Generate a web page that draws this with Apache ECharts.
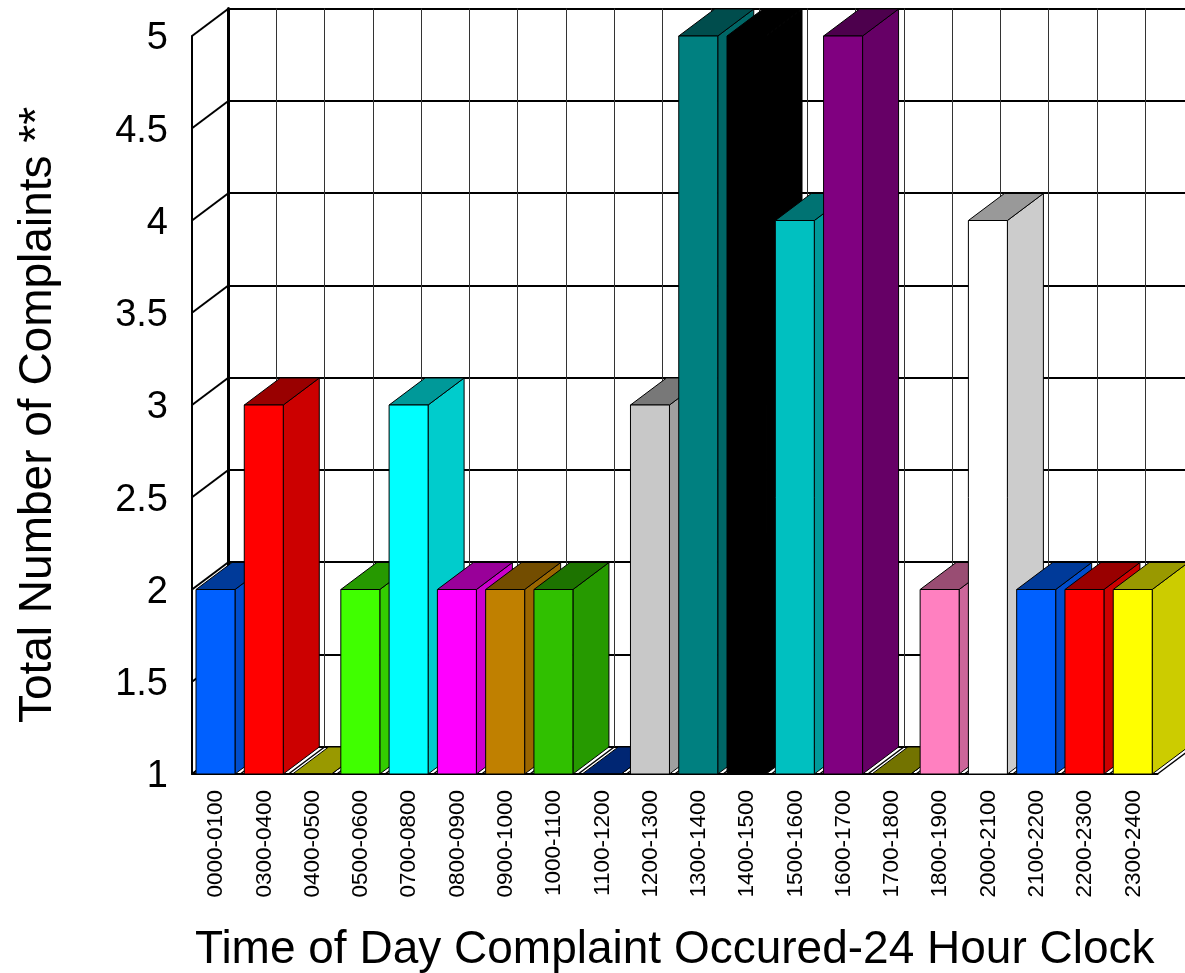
<!DOCTYPE html>
<html>
<head>
<meta charset="utf-8">
<title>Complaints by time of day</title>
<script src="https://cdn.jsdelivr.net/npm/echarts@6/dist/echarts.min.js"></script>
<style>
    html, body { margin: 0; padding: 0; background: #fff; }
    #main { width: 1185px; height: 973px; }
</style>
</head>
<body>
<div id="main"></div>
<script>
var categories = ["0000-0100", "0300-0400", "0400-0500", "0500-0600", "0700-0800", "0800-0900", "0900-1000", "1000-1100", "1100-1200", "1200-1300",
    "1300-1400", "1400-1500", "1500-1600", "1600-1700", "1700-1800", "1800-1900", "2000-2100", "2100-2200", "2200-2300", "2300-2400"];
var complaints = [2, 3, 1, 2, 3, 2, 2, 2, 1, 3, 5, 5, 4, 5, 1, 2, 4, 2, 2, 2];
var barColors = ["#0060ff", "#ff0000", "#ffff00", "#40ff00", "#00ffff", "#ff00ff", "#c08000", "#30c000", "#0040c0", "#c8c8c8",
    "#008080", "#000000", "#00c0c0", "#800080", "#c0c000", "#ff80c0", "#ffffff", "#0060ff", "#ff0000", "#ffff00"];
var yTicks = [1, 1.5, 2, 2.5, 3, 3.5, 4, 4.5, 5];

var FONT = '"Liberation Sans", Arial, sans-serif';
// 立体深度
var depthX = 36;
var depthY = 27;
var barWidth = 39;
var barGapLeft = 4;

// 颜色变暗
function shade(hex, k) {
    var n = parseInt(hex.slice(1), 16);
    var r = Math.round((n >> 16 & 255) * k);
    var g = Math.round((n >> 8 & 255) * k);
    var b = Math.round((n & 255) * k);
    return "rgb(" + r + "," + g + "," + b + ")";
}

function renderBar(params, api) {
    var i = api.value(0);
    var top = api.coord([i, api.value(1)]);
    var base = api.coord([i, 1]);
    var band = api.size([1, 0])[0];
    var x = top[0] - band / 2 + barGapLeft;
    var color = barColors[i];
    var edge = { stroke: "#000", lineWidth: 1 };
    return {
        type: "group",
        children: [
            {
                type: "polygon",
                shape: { points: [[x + barWidth, top[1]], [x + barWidth + depthX, top[1] - depthY], [x + barWidth + depthX, base[1] - depthY], [x + barWidth, base[1]]] },
                style: Object.assign({ fill: shade(color, 0.8) }, edge)
            },
            {
                type: "polygon",
                shape: { points: [[x, top[1]], [x + depthX, top[1] - depthY], [x + barWidth + depthX, top[1] - depthY], [x + barWidth, top[1]]] },
                style: Object.assign({ fill: shade(color, 0.6) }, edge)
            },
            {
                type: "rect",
                shape: { x: x, y: top[1], width: barWidth, height: base[1] - top[1] },
                style: Object.assign({ fill: color }, edge)
            }
        ]
    };
}

// 地面斜线
function renderFloorLine(params, api) {
    var i = api.value(0);
    var p = api.coord([i, 1]);
    var band = api.size([1, 0])[0];
    var children = [];
    var xs = i === categories.length - 1 ? [p[0] - band / 2, p[0] + band / 2] : [p[0] - band / 2];
    xs.forEach(function (x) {
        children.push({
            type: "line",
            shape: { x1: x, y1: p[1], x2: x + depthX, y2: p[1] - depthY },
            style: { stroke: "#000", lineWidth: 1.5 }
        });
    });
    return { type: "group", children: children };
}

// 左侧墙斜线
function renderWallLine(params, api) {
    var p = api.coord([0, api.value(0)]);
    var x = p[0] - api.size([1, 0])[0] / 2;
    return {
        type: "line",
        shape: { x1: x, y1: p[1], x2: x + depthX, y2: p[1] - depthY },
        style: { stroke: "#000", lineWidth: 2 }
    };
}

var myChart = echarts.init(document.querySelector("#main"));
var option = {
    animation: false,
    backgroundColor: "#fff",
    grid: [
        { left: 192, top: 36, width: 965.5, height: 738, outerBoundsMode: "none" },
        { left: 228, top: 8.5, width: 965.5, height: 738, outerBoundsMode: "none" }
    ],
    xAxis: [
        {
            type: "category",
            gridIndex: 0,
            data: categories,
            axisTick: { show: false },
            axisLine: { lineStyle: { color: "#000", width: 2 } },
            axisLabel: { interval: 0, rotate: 90, margin: 16, color: "#000", fontFamily: FONT, fontSize: 22.5 },
            name: "Time of Day Complaint Occured-24 Hour Clock",
            nameLocation: "middle",
            nameGap: 153,
            nameTextStyle: { color: "#000", fontFamily: FONT, fontSize: 46 }
        },
        {
            type: "category",
            gridIndex: 1,
            data: categories,
            axisTick: { show: false },
            axisLine: { show: false },
            axisLabel: { show: false },
            splitLine: { show: true, interval: 0, lineStyle: { color: "#333", width: 1 } }
        }
    ],
    yAxis: [
        {
            type: "value",
            gridIndex: 0,
            min: 1,
            max: 5,
            interval: 0.5,
            axisTick: { show: false },
            axisLine: { show: true, lineStyle: { color: "#000", width: 2 } },
            splitLine: { show: false },
            axisLabel: {
                margin: 24,
                verticalAlignMinLabel: "middle",
                verticalAlignMaxLabel: "middle",
                formatter: function (v) { return "{t|" + v + "}"; },
                rich: { t: { color: "#000", fontFamily: FONT, fontSize: 38, padding: [6, 0, 0, 0] } }
            },
            name: "Total Number of Complaints **",
            nameLocation: "middle",
            nameGap: 131,
            nameTextStyle: { color: "#000", fontFamily: FONT, fontSize: 46, padding: [0, 20, 0, 0] }
        },
        {
            type: "value",
            gridIndex: 1,
            min: 1,
            max: 5,
            interval: 0.5,
            axisTick: { show: false },
            axisLine: { show: true, lineStyle: { color: "#000", width: 3 } },
            axisLabel: { show: false },
            splitLine: { show: true, lineStyle: { color: "#000", width: 2 } }
        }
    ],
    series: [
        {
            type: "custom",
            xAxisIndex: 0,
            yAxisIndex: 0,
            z: 2,
            clip: false,
            renderItem: renderWallLine,
            data: yTicks.map(function (v) { return [v]; }),
            encode: { y: 0 }
        },
        {
            type: "custom",
            xAxisIndex: 0,
            yAxisIndex: 0,
            z: 2,
            clip: false,
            renderItem: renderFloorLine,
            data: categories.map(function (c, i) { return [i]; }),
            encode: { x: 0 }
        },
        {
            type: "custom",
            xAxisIndex: 0,
            yAxisIndex: 0,
            z: 3,
            clip: false,
            renderItem: renderBar,
            data: complaints.map(function (v, i) { return [i, v]; }),
            encode: { x: 0, y: 1 }
        }
    ]
};
myChart.setOption(option);
</script>
</body>
</html>
